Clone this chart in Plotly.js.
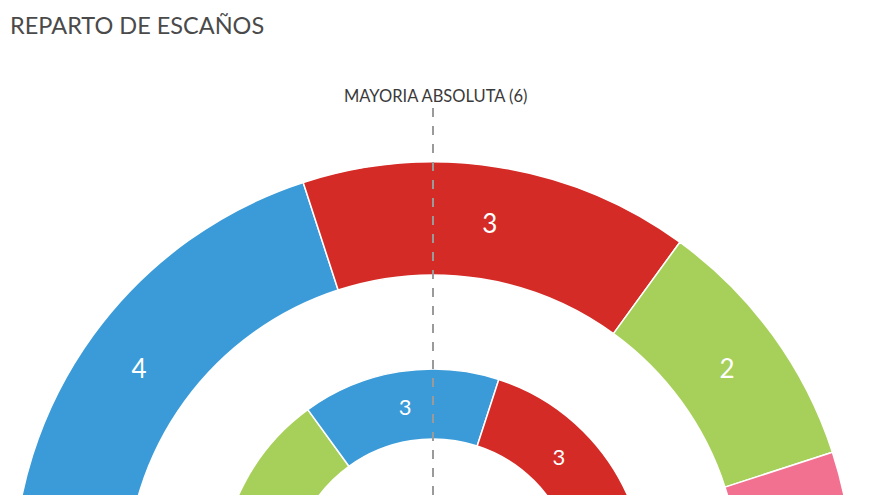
<!DOCTYPE html>
<html>
<head>
<meta charset="utf-8">
<script src="https://cdn.plot.ly/plotly-3.0.1.min.js"></script>
<style>
  html, body { margin: 0; padding: 0; background: #fff; overflow: hidden; }
  #wrap { width: 880px; height: 495px; overflow: hidden; }
</style>
</head>
<body>
<div id="wrap"><div id="plot"></div></div>
<script>
// seats per party, outer ring (left to right)
var outerParties = ["PP", "PSOE", "Podemos", "Otros"];
var outerSeats = [4, 3, 2, 2];
var outerColors = ["#3b9bd8", "#d52b27", "#a7d05a", "#f27191"];

// inner ring (left to right)
var innerParties = ["Podemos", "PP", "PSOE", "Otros"];
var innerSeats = [3, 3, 3, 2];
var innerColors = ["#a7d05a", "#3b9bd8", "#d52b27", "#f27191"];

var majority = 6;

// one seat spans 18 degrees, the rest of the circle is a hidden slice
var seatsInCircle = 20;

var W = 880, H = 1010;
var cx = 433, cy = 582;

function ring(labels, seats, colors, rOut, rIn, fontSize) {
    var total = seats.reduce((a, b) => a + b, 0);
    return {
        type: "pie",
        labels: labels.concat([""]),
        values: seats.concat([seatsInCircle - total]),
        text: seats.map(String).concat([""]),
        textinfo: "text",
        textposition: "inside",
        insidetextorientation: "horizontal",
        textfont: {color: "#ffffff", size: fontSize, family: "Lato, sans-serif"},
        insidetextfont: {color: "#ffffff", size: fontSize, family: "Lato, sans-serif"},
        marker: {colors: colors.concat(["rgba(0,0,0,0)"]),
                 line: {color: ["#ffffff", "#ffffff", "#ffffff", "#ffffff", "rgba(0,0,0,0)"], width: 1.5}},
        sort: false,
        direction: "clockwise",
        rotation: -90,
        hole: rIn / rOut,
        hoverinfo: "skip",
        showlegend: false,
        automargin: false,
        domain: {x: [(cx - rOut) / W, (cx + rOut) / W],
                 y: [1 - (cy + rOut) / H, 1 - (cy - rOut) / H]}
    };
}

var data = [
    ring(outerParties, outerSeats, outerColors, 420, 307, 26),
    ring(innerParties, innerSeats, innerColors, 213, 143, 22)
];

var layout = {
    width: W,
    height: H,
    margin: {l: 0, r: 0, t: 0, b: 0},
    paper_bgcolor: "#ffffff",
    title: {text: "REPARTO DE ESCAÑOS",
            font: {family: "Lato, sans-serif", size: 23.5, color: "#4a4a4a"},
            x: 10 / W, xanchor: "left", xref: "paper",
            y: 1 - 26 / H, yanchor: "middle", yref: "container"},
    annotations: [{
        text: "MAYORIA ABSOLUTA (" + majority + ")",
        xref: "paper", yref: "paper",
        x: 435 / W, y: 1 - 96 / H,
        xanchor: "center", yanchor: "middle",
        showarrow: false,
        font: {family: "Lato, sans-serif", size: 16.5, color: "#3a3a3a"}
    }],
    shapes: [{
        type: "line", xref: "paper", yref: "paper",
        x0: cx / W, x1: cx / W,
        y0: 1 - 108 / H, y1: 1 - cy / H,
        line: {color: "#9a9a9a", width: 2, dash: "dash"},
        layer: "above"
    }]
};

Plotly.newPlot("plot", data, layout, {displayModeBar: false, staticPlot: true});
</script>
</body>
</html>
